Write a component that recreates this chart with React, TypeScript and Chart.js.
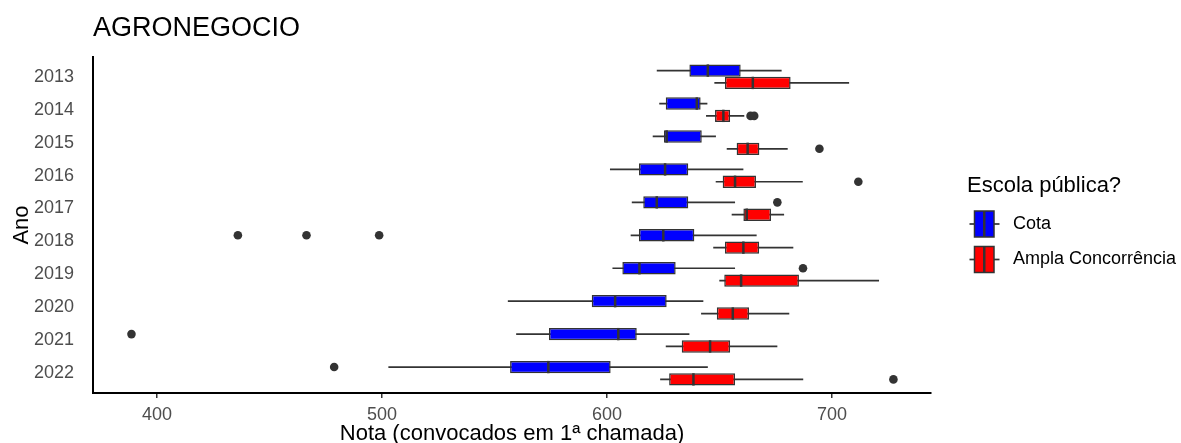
import React, { useEffect, useRef } from 'react';
import { Chart, registerables } from 'chart.js';

Chart.register(...registerables);

const chartTitle = 'AGRONEGOCIO';
const xAxisTitle = 'Nota (convocados em 1ª chamada)';
const yAxisTitle = 'Ano';
const legendTitle = 'Escola pública?';
const seriesLabels = ['Cota', 'Ampla Concorrência'];
const seriesColors = ['#0000FF', '#FF0000'];

const years = ['2013', '2014', '2015', '2016', '2017', '2018', '2019', '2020', '2021', '2022'];
const xTicks = [400, 500, 600, 700];

// Cota
const cotaMin = [622.1, 623.2, 620.3, 601.3, 611.0, 610.5, 602.4, 555.9, 559.6, 502.8];
const cotaQ1 = [636.6, 626.1, 625.3, 614.2, 616.1, 614.2, 606.8, 593.2, 574.2, 556.9];
const cotaMedian = [644.8, 639.9, 626.5, 625.8, 622.1, 625.0, 614.4, 603.6, 605.0, 573.9];
const cotaQ3 = [659.4, 641.6, 642.1, 636.1, 636.1, 638.8, 630.5, 626.5, 613.2, 601.6];
const cotaMax = [677.6, 644.6, 648.4, 660.6, 656.9, 666.5, 656.9, 642.8, 636.6, 644.8];
const cotaOutlierYears = ['2017', '2018', '2018', '2018', '2019', '2021', '2022'];
const cotaOutlierValues = [675.7, 435.9, 466.4, 498.7, 687.1, 388.6, 478.7];

// Ampla Concorrência
const amplaMin = [647.7, 644.0, 653.2, 648.3, 655.4, 647.2, 649.9, 641.8, 626.1, 623.6];
const amplaQ1 = [652.4, 648.0, 657.6, 651.4, 660.6, 652.4, 652.1, 648.8, 633.2, 627.6];
const amplaMedian = [664.8, 651.7, 662.5, 656.9, 662.1, 660.6, 659.6, 655.9, 645.8, 638.4];
const amplaQ3 = [681.6, 654.7, 667.7, 666.2, 672.9, 667.6, 685.3, 663.1, 654.7, 656.9];
const amplaMax = [707.6, 661.0, 680.3, 687.0, 678.7, 682.8, 720.9, 681.0, 675.7, 687.2];
const amplaOutlierYears = ['2014', '2014', '2015', '2016', '2022'];
const amplaOutlierValues = [663.8, 665.4, 694.4, 711.7, 727.3];

const FONT = "'Liberation Sans', Arial, Helvetica, sans-serif";
const DARK = '#333333';

export default function App() {
  const ref = useRef<HTMLCanvasElement>(null);

  useEffect(() => {
    document.body.style.margin = '0';
    const canvas = ref.current;
    if (!canvas) return;

    const stats = [
      { min: cotaMin, q1: cotaQ1, med: cotaMedian, q3: cotaQ3, max: cotaMax, oy: cotaOutlierYears, ov: cotaOutlierValues },
      { min: amplaMin, q1: amplaQ1, med: amplaMedian, q3: amplaQ3, max: amplaMax, oy: amplaOutlierYears, ov: amplaOutlierValues },
    ];

    const boxPlugin = {
      id: 'boxplotExtras',
      beforeDatasetsDraw(chart: any) {
        const ctx = chart.ctx;
        const xs = chart.scales.x;
        ctx.save();
        ctx.strokeStyle = DARK;
        ctx.lineWidth = 1.7;
        stats.forEach((s, d) => {
          const meta = chart.getDatasetMeta(d);
          meta.data.forEach((bar: any, i: number) => {
            const y = bar.y;
            ctx.beginPath();
            ctx.moveTo(xs.getPixelForValue(s.min[i]), y);
            ctx.lineTo(xs.getPixelForValue(s.max[i]), y);
            ctx.stroke();
          });
          ctx.fillStyle = DARK;
          s.oy.forEach((yr, k) => {
            const idx = years.indexOf(yr);
            const bar: any = meta.data[idx];
            if (!bar) return;
            ctx.beginPath();
            ctx.arc(xs.getPixelForValue(s.ov[k]), bar.y, 4.3, 0, Math.PI * 2);
            ctx.fill();
          });
        });
        ctx.restore();
      },
      afterDatasetsDraw(chart: any) {
        const ctx = chart.ctx;
        const xs = chart.scales.x;
        ctx.save();
        ctx.strokeStyle = DARK;
        ctx.lineWidth = 2.5;
        stats.forEach((s, d) => {
          const meta = chart.getDatasetMeta(d);
          meta.data.forEach((bar: any, i: number) => {
            const h = bar.height;
            const x = xs.getPixelForValue(s.med[i]);
            ctx.beginPath();
            ctx.moveTo(x, bar.y - h / 2);
            ctx.lineTo(x, bar.y + h / 2);
            ctx.stroke();
          });
        });
        ctx.restore();
      },
      afterDraw(chart: any) {
        const ctx = chart.ctx;
        const area = chart.chartArea;
        ctx.save();
        ctx.fillStyle = '#000000';
        ctx.font = `27px ${FONT}`;
        ctx.textAlign = 'left';
        ctx.textBaseline = 'middle';
        ctx.fillText(chartTitle, area.left, 29);
        ctx.font = `22px ${FONT}`;
        ctx.textAlign = 'center';
        ctx.fillText(xAxisTitle, (area.left + area.right) / 2, 434);
        ctx.save();
        ctx.translate(22, (area.top + area.bottom) / 2);
        ctx.rotate(-Math.PI / 2);
        ctx.fillText(yAxisTitle, 0, 0);
        ctx.restore();
        ctx.textAlign = 'left';
        ctx.font = `22px ${FONT}`;
        ctx.fillText(legendTitle, 967, 186);
        ctx.font = `18px ${FONT}`;
        seriesLabels.forEach((lab, k) => {
          const cy = 224 + k * 35.5;
          const bx = 974.5, bw = 19.5, bh = 26;
          ctx.strokeStyle = DARK;
          ctx.lineWidth = 1.7;
          ctx.beginPath();
          ctx.moveTo(969.5, cy);
          ctx.lineTo(999.5, cy);
          ctx.stroke();
          ctx.fillStyle = seriesColors[k];
          ctx.fillRect(bx, cy - bh / 2, bw, bh);
          ctx.lineWidth = 1.5;
          ctx.strokeRect(bx, cy - bh / 2, bw, bh);
          ctx.lineWidth = 2.5;
          ctx.beginPath();
          ctx.moveTo(bx + bw / 2, cy - bh / 2);
          ctx.lineTo(bx + bw / 2, cy + bh / 2);
          ctx.stroke();
          ctx.fillStyle = '#000000';
          ctx.fillText(lab, 1013, cy);
        });
        ctx.restore();
      },
    };

    const makeData = (q1: number[], q3: number[]) => years.map((_, i) => ({ x: [q1[i], q3[i]], y: i }));

    const chart = new Chart(canvas, {
      type: 'bar',
      data: {
        datasets: [
          {
            label: seriesLabels[0],
            data: makeData(cotaQ1, cotaQ3) as any,
            backgroundColor: seriesColors[0],
            borderColor: DARK,
            borderWidth: 1.5,
            borderSkipped: false,
            categoryPercentage: 0.75,
            barPercentage: 1,
          },
          {
            label: seriesLabels[1],
            data: makeData(amplaQ1, amplaQ3) as any,
            backgroundColor: seriesColors[1],
            borderColor: DARK,
            borderWidth: 1.5,
            borderSkipped: false,
            categoryPercentage: 0.75,
            barPercentage: 1,
          },
        ],
      },
      options: {
        indexAxis: 'y',
        responsive: false,
        animation: false,
        devicePixelRatio: 1,
        layout: { padding: { top: 57, right: 250, bottom: 0, left: 0 } },
        plugins: {
          legend: { display: false },
          title: { display: false },
          tooltip: { enabled: false },
        },
        scales: {
          x: {
            type: 'linear',
            min: 371.5,
            max: 744,
            afterBuildTicks: (scale: any) => {
              scale.ticks = xTicks.map((v) => ({ value: v }));
            },
            afterFit: (scale: any) => {
              scale.height = 50;
            },
            grid: { display: true, drawOnChartArea: false, drawTicks: true, tickLength: 5, color: DARK, lineWidth: 1.5 },
            border: { display: true, color: '#000000', width: 2 },
            ticks: {
              color: '#4D4D4D',
              font: { family: FONT, size: 18 },
              padding: 6,
              maxRotation: 0,
              autoSkip: false,
            },
          },
          y: {
            type: 'linear',
            reverse: true,
            offset: false,
            min: -0.6,
            max: 9.6,
            afterBuildTicks: (scale: any) => {
              scale.ticks = years.map((_, i) => ({ value: i }));
            },
            afterFit: (scale: any) => {
              scale.width = 93;
            },
            grid: { display: false },
            border: { display: true, color: '#000000', width: 2 },
            ticks: {
              color: '#4D4D4D',
              font: { family: FONT, size: 18 },
              padding: 11,
              autoSkip: false,
              callback: (v: any) => years[Number(v)] ?? '',
            },
          },
        },
      },
      plugins: [boxPlugin],
    } as any);

    return () => chart.destroy();
  }, []);

  return (
    <div style={{ width: 1181, height: 443 }}>
      <canvas ref={ref} width={1181} height={443} style={{ display: 'block', width: 1181, height: 443 }} />
    </div>
  );
}
